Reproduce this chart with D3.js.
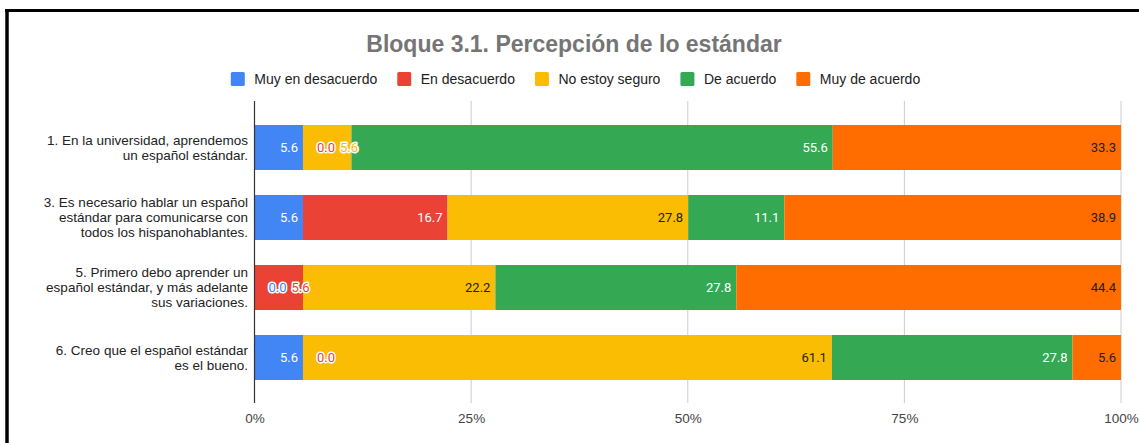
<!DOCTYPE html>
<html>
<head>
<meta charset="utf-8">
<script src="https://cdn.jsdelivr.net/npm/d3@7"></script>
<style>
  html, body { margin: 0; padding: 0; background: #fff; }
  svg { display: block; }
</style>
</head>
<body>
<div id="chart"></div>
<script>
const WIDTH = 1139, HEIGHT = 443;

// ---- data ----
const title = "Bloque 3.1. Percepción de lo estándar";
const seriesNames = ["Muy en desacuerdo", "En desacuerdo", "No estoy seguro", "De acuerdo", "Muy de acuerdo"];
const seriesColors = ["#4285F4", "#EA4335", "#FBBC04", "#34A853", "#FF6D01"];
const labelColors = ["#ffffff", "#ffffff", "#222222", "#ffffff", "#222222"];
const questions = [
  ["1. En la universidad, aprendemos", "un español estándar."],
  ["3. Es necesario hablar un español", "estándar para comunicarse con", "todos los hispanohablantes."],
  ["5. Primero debo aprender un", "español estándar, y más adelante", "sus variaciones."],
  ["6. Creo que el español estándar", "es el bueno."]
];
const muyDesacuerdo = [5.6, 5.6, 0.0, 5.6];
const desacuerdo    = [0.0, 16.7, 5.6, 0.0];
const noSeguro      = [5.6, 27.8, 22.2, 61.1];
const deAcuerdo     = [55.6, 11.1, 27.8, 27.8];
const muyAcuerdo    = [33.3, 38.9, 44.4, 5.6];
const tickValues = [0, 0.25, 0.5, 0.75, 1];

const seriesValues = [muyDesacuerdo, desacuerdo, noSeguro, deAcuerdo, muyAcuerdo];
const rows = questions.map((q, i) => {
  const r = { key: i };
  seriesNames.forEach((s, j) => { r[s] = seriesValues[j][i]; });
  return r;
});

const FONT = "Liberation Sans, Arial, sans-serif";

const svg = d3.select("#chart").append("svg")
  .attr("width", WIDTH).attr("height", HEIGHT);

// frame of the screenshot
svg.append("line").attr("x1", 5).attr("x2", WIDTH).attr("y1", 10.5).attr("y2", 10.5)
  .attr("stroke", "#000").attr("stroke-width", 3);
svg.append("line").attr("x1", 7).attr("x2", 7).attr("y1", 9).attr("y2", HEIGHT)
  .attr("stroke", "#000").attr("stroke-width", 3.5);

const x = d3.scaleLinear().domain([0, 1]).range([254.5, 1121]);
const y = d3.scaleBand().domain(rows.map(d => d.key))
  .range([112.5, 392.5]).paddingInner(0.357).paddingOuter(0.1785);

const plotTop = 101, plotBottom = 403;

// title
svg.append("text")
  .attr("x", 574).attr("y", 52)
  .attr("text-anchor", "middle")
  .style("font-family", FONT)
  .style("font-size", "23px").style("font-weight", "bold")
  .attr("fill", "#757575")
  .text(title);

// legend
const legend = svg.append("g");
let lx = 0;
seriesNames.forEach((s, i) => {
  const g = legend.append("g").attr("transform", `translate(${lx},0)`);
  g.append("rect").attr("x", 0).attr("y", 72).attr("width", 14).attr("height", 14)
    .attr("rx", 1.5).attr("fill", seriesColors[i]);
  const t = g.append("text").attr("x", 23.5).attr("y", 83.5)
    .style("font-family", FONT)
    .style("font-size", "14px").attr("fill", "#222")
    .text(s);
  lx += 23.5 + t.node().getComputedTextLength() + 20;
});
const legendW = lx - 20;
legend.attr("transform", `translate(${575.5 - legendW / 2},0)`);

// gridlines
svg.append("g")
  .selectAll("line")
  .data(tickValues.slice(1))
  .join("line")
  .attr("x1", d => x(d)).attr("x2", d => x(d))
  .attr("y1", plotTop).attr("y2", plotBottom)
  .attr("stroke", "#cccccc").attr("stroke-width", 1);

// stacked bars
const stack = d3.stack().keys(seriesNames).offset(d3.stackOffsetExpand);
const stacked = stack(rows);

const layers = svg.append("g").selectAll("g")
  .data(stacked)
  .join("g")
  .attr("fill", (d, i) => seriesColors[i]);

layers.selectAll("rect")
  .data(d => d)
  .join("rect")
  .attr("x", d => x(d[0]))
  .attr("y", d => y(d.data.key))
  .attr("width", d => x(d[1]) - x(d[0]))
  .attr("height", y.bandwidth());

// zero axis line
svg.append("line")
  .attr("x1", x(0)).attr("x2", x(0))
  .attr("y1", plotTop).attr("y2", plotBottom)
  .attr("stroke", "#333").attr("stroke-width", 1.2);

// x axis tick labels
const xAxis = svg.append("g")
  .attr("transform", `translate(0,${plotBottom})`)
  .call(d3.axisBottom(x).tickValues(tickValues).tickFormat(d3.format(".0%")).tickSize(0).tickPadding(10));
xAxis.select(".domain").remove();
xAxis.selectAll("text")
  .style("font-family", FONT)
  .style("font-size", "13.5px").attr("fill", "#444");

// category labels
const cat = svg.append("g");
rows.forEach((r, i) => {
  const lines = questions[i];
  const cy = y(r.key) + y.bandwidth() / 2;
  const t = cat.append("text")
    .attr("text-anchor", "end")
    .style("font-family", FONT)
    .style("font-size", "13.5px").attr("fill", "#222");
  lines.forEach((ln, k) => {
    t.append("tspan")
      .attr("x", 248)
      .attr("y", cy + (k - (lines.length - 1) / 2) * 15)
      .attr("dy", "0.36em")
      .text(ln);
  });
});

// data labels
const fmt = d3.format(".1f");
const labelsG = svg.append("g")
  .style("font-family", "Roboto, sans-serif")
  .style("font-size", "13px");
const measure = labelsG.append("text").attr("visibility", "hidden");
const pad = 5, gap = 5;

rows.forEach((r, i) => {
  let lastEnd = -Infinity;
  const cy = y(r.key) + y.bandwidth() / 2;
  stacked.forEach((layer, j) => {
    const seg = layer[i];
    const x0 = x(seg[0]), x1 = x(seg[1]);
    const txt = fmt(seriesValues[j][i]);
    measure.text(txt);
    const lw = measure.node().getComputedTextLength();
    let start, outside = false;
    if (x1 - x0 >= lw + 2 * pad) {
      start = x1 - pad - lw;
      if (start < lastEnd + gap) { start = lastEnd + gap; outside = true; }
    } else {
      start = Math.max(x1 + 14, lastEnd + gap);
      outside = true;
    }
    const t = labelsG.append("text")
      .attr("x", start).attr("y", cy).attr("dy", "0.36em")
      .text(txt);
    if (outside) {
      t.attr("fill", seriesColors[j])
        .attr("stroke", "#fff").attr("stroke-width", 3)
        .attr("stroke-linejoin", "round")
        .style("paint-order", "stroke");
    } else {
      t.attr("fill", labelColors[j]);
    }
    lastEnd = start + lw;
  });
});
measure.remove();
</script>
</body>
</html>
